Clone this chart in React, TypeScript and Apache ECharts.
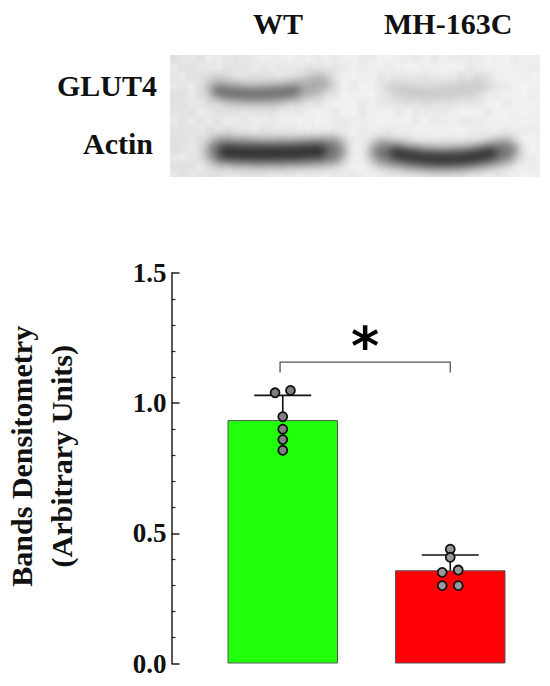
import React, { useEffect, useRef } from "react";
import * as echarts from "echarts";

const categories = ["WT", "MH-163C"];
const barValues = [0.935, 0.358];
const barColors = ["#22ff0a", "#ff0006"];
const barPositions = [0, 1];
const errorTops = [1.03, 0.417];
const wtPoints = [[-0.046, 1.04], [0.046, 1.049], [0, 0.948], [0, 0.9], [0, 0.86], [0, 0.819]];
const mhPoints = [[1, 0.439], [1, 0.408], [0.952, 0.35], [1.048, 0.359], [0.952, 0.299], [1.048, 0.299]];
const bracket = [-0.016, 1, 1.158];
const yTicksMax = 1.5;
const rowLabels = ["GLUT4", "Actin"];
const yTitle = "Bands Densitometry\n(Arbitrary Units)";
const SERIF = "'Liberation Serif', serif";

function makeBlot(): string {
  const W = 370, H = 122;
  const c = document.createElement("canvas");
  c.width = W; c.height = H;
  const g = c.getContext("2d")!;
  const bg = g.createLinearGradient(0, 0, W, 0);
  bg.addColorStop(0, "#e4e4e4");
  bg.addColorStop(0.35, "#eeeeee");
  bg.addColorStop(1, "#f0f0f0");
  g.fillStyle = bg;
  g.fillRect(0, 0, W, H);
  g.filter = "blur(2px)";
  for (let x = 0; x < W; x += 9) {
    for (let y = 0; y < H; y += 9) {
      const n = Math.sin(x * 12.9898 + y * 78.233) * 43758.5453;
      const f = n - Math.floor(n);
      g.fillStyle = f > 0.5 ? `rgba(255,255,255,${(f - 0.5) * 0.7})` : `rgba(190,190,190,${(0.5 - f) * 0.35})`;
      g.fillRect(x, y, 7, 7);
    }
  }
  const stroke = (blur: number, width: number, color: string, p: number[]) => {
    g.filter = `blur(${blur}px)`;
    g.strokeStyle = color;
    g.lineWidth = width;
    g.lineCap = "round";
    g.beginPath();
    g.moveTo(p[0], p[1]);
    g.quadraticCurveTo(p[2], p[3], p[4], p[5]);
    g.stroke();
  };
  // GLUT4 WT
  stroke(7, 20, "rgba(130,130,130,0.7)", [46, 34, 95, 48, 152, 28]);
  stroke(4, 11, "rgba(70,70,70,0.6)", [48, 36, 80, 42, 125, 36]);
  // GLUT4 MH
  stroke(7, 18, "rgba(165,165,165,0.55)", [225, 34, 270, 44, 310, 30]);
  // Actin WT
  stroke(6, 27, "rgba(95,95,95,0.85)", [50, 96, 105, 100, 162, 96]);
  stroke(4, 13, "rgba(30,30,30,0.8)", [55, 97, 100, 100, 150, 96]);
  // Actin MH
  stroke(6, 24, "rgba(95,95,95,0.85)", [212, 97, 275, 112, 336, 96]);
  stroke(4, 11, "rgba(30,30,30,0.8)", [225, 98, 275, 110, 322, 98]);
  return c.toDataURL("image/png");
}

export default function App() {
  const ref = useRef<HTMLDivElement>(null);
  useEffect(() => {
    document.body.style.margin = "0";
    const chart = echarts.init(ref.current!, undefined, { renderer: "svg" });
    const labelStyle = { font: `bold 30px ${SERIF}`, fill: "#111", verticalAlign: "top" };
    const pointSeries = (data: number[][], fill: string) => ({
      type: "scatter" as const,
      xAxisIndex: 1,
      data,
      symbolSize: 9,
      z: 5,
      clip: false,
      itemStyle: { color: fill, borderColor: "#111", borderWidth: 1.8, opacity: 1 },
    });
    chart.setOption({
      animation: false,
      backgroundColor: "#fff",
      grid: { left: 199, right: 16, top: 273, bottom: 22.5, outerBoundsMode: "none", containLabel: false },
      xAxis: [
        { type: "category", data: categories, show: false },
        { type: "value", min: -0.5, max: 1.5, show: false },
      ],
      yAxis: {
        type: "value",
        min: 0,
        max: yTicksMax,
        interval: 0.5,
        offset: 27.5,
        name: yTitle,
        nameLocation: "middle",
        nameRotate: 90,
        nameGap: 90,
        nameTextStyle: {
          fontFamily: SERIF,
          fontWeight: "bold",
          fontSize: 30,
          color: "#111",
          lineHeight: 40,
          padding: [0, 0, 0, 24],
        },
        splitLine: { show: false },
        axisLine: { show: true, onZero: false, lineStyle: { color: "#222", width: 1.5 } },
        axisTick: { show: true, inside: true, length: 8, lineStyle: { color: "#222", width: 1.5 } },
        minorTick: { show: true, splitNumber: 5, length: 4, lineStyle: { color: "#222", width: 1.2 } },
        axisLabel: {
          formatter: (v: number) => v.toFixed(1),
          fontFamily: SERIF,
          fontWeight: "bold",
          fontSize: 27,
          color: "#111",
          margin: 5,
        },
      },
      series: [
        {
          type: "bar",
          xAxisIndex: 0,
          barWidth: 110.5,
          z: 2,
          data: barValues.map((v, i) => ({
            value: v,
            itemStyle: { color: barColors[i], borderColor: "#555", borderWidth: 1 },
          })),
        },
        {
          type: "custom",
          xAxisIndex: 1,
          z: 3,
          clip: false,
          data: barPositions.map((x, i) => [x, errorTops[i], barValues[i]]),
          renderItem: (_p: any, api: any) => {
            const top = api.coord([api.value(0), api.value(1)]);
            const bottom = api.coord([api.value(0), api.value(2)]);
            const style = { stroke: "#111", lineWidth: 1.6, fill: "none" };
            return {
              type: "group",
              children: [
                { type: "line", shape: { x1: top[0], y1: top[1], x2: bottom[0], y2: bottom[1] }, style },
                { type: "line", shape: { x1: top[0] - 28.5, y1: top[1], x2: top[0] + 28.5, y2: top[1] }, style },
              ],
            };
          },
        },
        {
          type: "custom",
          xAxisIndex: 1,
          z: 3,
          clip: false,
          data: [bracket],
          renderItem: (_p: any, api: any) => {
            const a = api.coord([api.value(0), api.value(2)]);
            const b = api.coord([api.value(1), api.value(2)]);
            return {
              type: "group",
              children: [
                {
                  type: "polyline",
                  shape: { points: [[a[0], a[1] + 10.5], a, b, [b[0], b[1] + 10.5]] },
                  style: { stroke: "#555", lineWidth: 1.3, fill: "none" },
                },
                {
                  type: "text",
                  style: {
                    x: (a[0] + b[0]) / 2,
                    y: a[1] - 16,
                    text: "*",
                    font: "bold 54px 'DejaVu Sans', sans-serif",
                    fill: "#000",
                    align: "center",
                    verticalAlign: "middle",
                  },
                },
              ],
            };
          },
        },
        pointSeries(wtPoints, "#808080"),
        pointSeries(mhPoints, "#999999"),
      ],
      graphic: [
        { type: "image", x: 170, y: 55, z: 0, style: { image: makeBlot(), x: 0, y: 0, width: 370, height: 122 } },
        { type: "text", x: 253, y: 8, style: { ...labelStyle, text: categories[0] } },
        { type: "text", x: 384, y: 8, style: { ...labelStyle, text: categories[1] } },
        { type: "text", x: 57, y: 70, style: { ...labelStyle, text: rowLabels[0] } },
        { type: "text", x: 83, y: 128, style: { ...labelStyle, text: rowLabels[1] } },
      ],
    });
    return () => chart.dispose();
  }, []);
  return <div ref={ref} style={{ width: 550, height: 686 }} />;
}
